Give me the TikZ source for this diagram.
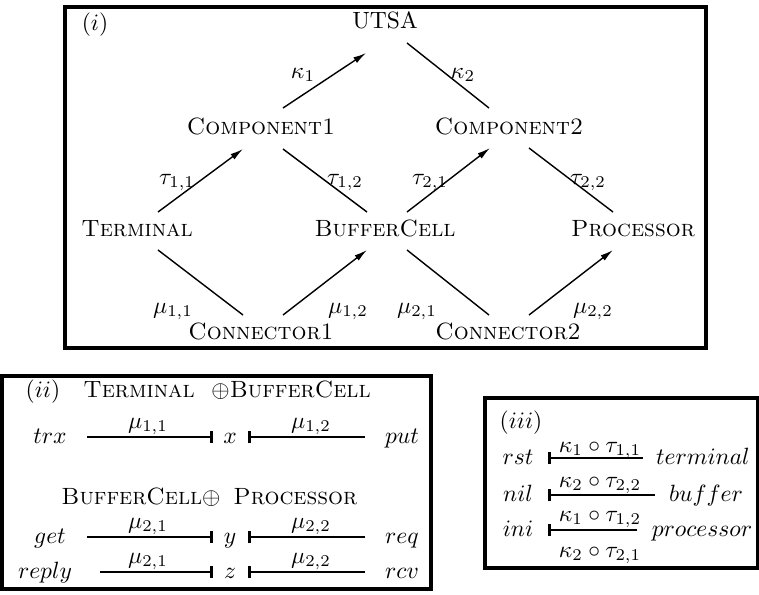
\documentclass[tikz,border=0pt]{standalone}
\usetikzlibrary{arrows.meta,calc}
\begin{document}
\begin{tikzpicture}[x=0.425pt,y=-0.425pt,
  lbl/.style={inner sep=0pt, text height=1.5ex, text depth=0.3ex},
  frame/.style={draw, line width=1.3pt},
  link/.style={line width=0.6pt},
  arr/.style={link, -{Latex[length=5.5pt,width=2.8pt]}},
  mapto/.style={line width=0.9pt, -{Bar[width=5.4pt,line width=1.4pt]}},
  mapfrom/.style={line width=0.9pt, {Bar[width=5.4pt,line width=1.4pt]}-}]
\useasboundingbox (0,0) rectangle (759,594);

% ---------- (i) the component hierarchy ----------
\draw[frame] (65,7) rectangle (706,348);
\node[lbl] (lab1) at (95,24) {$(i)$};

\node[lbl] (utsa)  at (385,22)  {UTSA};
\node[lbl] (comp1) at (261,128) {\textsc{Component1}};
\node[lbl] (comp2) at (509,128) {\textsc{Component2}};
\node[lbl] (term)  at (137,230) {\textsc{Terminal}};
\node[lbl] (buf)   at (385,230) {\textsc{BufferCell}};
\node[lbl] (proc)  at (633,230) {\textsc{Processor}};
\node[lbl] (con1)  at (261,333) {\textsc{Connector1}};
\node[lbl] (con2)  at (508,333) {\textsc{Connector2}};

\draw[arr]  ($(comp1)+(22,-20)$) -- ($(utsa)+(-19,31)$);
\draw[link] ($(utsa)+(22,21)$)   -- ($(comp2)+(-20,-20)$);
\draw[arr]  ($(term)+(21,-18)$)  -- ($(comp1)+(-18,21)$);
\draw[link] ($(comp1)+(22,21)$)  -- ($(buf)+(-18,-18)$);
\draw[arr]  ($(buf)+(22,-18)$)   -- ($(comp2)+(-19,20)$);
\draw[link] ($(comp2)+(20,20)$)  -- ($(proc)+(-20,-18)$);
\draw[link] ($(term)+(21,20)$)   -- ($(con1)+(-18,-18)$);
\draw[arr]  ($(con1)+(22,-18)$)  -- ($(buf)+(-18,20)$);
\draw[link] ($(buf)+(22,20)$)    -- ($(con2)+(-19,-18)$);
\draw[arr]  ($(con2)+(21,-18)$)  -- ($(proc)+(-20,20)$);

\node[lbl] (k1)  at (303,72)  {$\kappa_1$};
\node[lbl] (k2)  at (463,72)  {$\kappa_2$};
\node[lbl] (t11) at (177,178) {$\tau_{1,1}$};
\node[lbl] (t12) at (345,178) {$\tau_{1,2}$};
\node[lbl] (t21) at (430,178) {$\tau_{2,1}$};
\node[lbl] (t22) at (588,178) {$\tau_{2,2}$};
\node[lbl] (m11) at (173,307) {$\mu_{1,1}$};
\node[lbl] (m12) at (348,307) {$\mu_{1,2}$};
\node[lbl] (m21) at (417,307) {$\mu_{2,1}$};
\node[lbl] (m22) at (593,307) {$\mu_{2,2}$};

% ---------- (ii) the connector bindings ----------
\draw[frame] (2,376) rectangle (431,589);
\node[lbl] (lab2) at (43,391) {$(ii)$};
\node[lbl] (hTerm) at (139,391) {\textsc{Terminal}};
\node[lbl, anchor=west] (hBufA) at (211,391) {$\oplus$\textsc{BufferCell}};
\node[lbl, anchor=east] (hBufB) at (221,498) {\textsc{BufferCell}$\oplus$};
\node[lbl, anchor=west] (hProc) at (233,498) {\textsc{Processor}};

\node[lbl] (trx) at (50,437)  {$trx$};
\node[lbl] (vx)  at (230,437) {$x$};
\node[lbl] (put) at (402,437) {$put$};
\draw[mapto]   ($(trx)+(37,0)$) -- ($(vx)+(-17,0)$);
\draw[mapfrom] ($(vx)+(18,0)$)  -- ($(put)+(-37,0)$);
\node[lbl] (a11) at (148,422) {$\mu_{1,1}$};
\node[lbl] (a12) at (311,422) {$\mu_{1,2}$};

\node[lbl] (get) at (50,537)  {$get$};
\node[lbl] (vy)  at (230,537) {$y$};
\node[lbl] (req) at (402,537) {$req$};
\draw[mapto]   ($(get)+(37,0)$) -- ($(vy)+(-17,0)$);
\draw[mapfrom] ($(vy)+(18,0)$)  -- ($(req)+(-37,0)$);
\node[lbl] (b21) at (148,522) {$\mu_{2,1}$};
\node[lbl] (b22) at (311,522) {$\mu_{2,2}$};

\node[lbl] (reply) at (45,572)  {$reply$};
\node[lbl] (vz)    at (230,572) {$z$};
\node[lbl] (rcv)   at (402,572) {$rcv$};
\draw[mapto]   ($(reply)+(55,0)$) -- ($(vz)+(-17,0)$);
\draw[mapfrom] ($(vz)+(18,0)$)    -- ($(rcv)+(-37,0)$);
\node[lbl] (c21) at (148,557) {$\mu_{2,1}$};
\node[lbl] (c22) at (311,557) {$\mu_{2,2}$};

% ---------- (iii) the initial states ----------
\draw[frame] (485,398) rectangle (757.5,568);
\node[lbl] (lab3) at (521,422) {$(iii)$};

\node[lbl] (rst)  at (518,458) {$rst$};
\node[lbl] (nil)  at (518,495) {$nil$};
\node[lbl] (ini)  at (518,530) {$ini$};
\node[lbl] (sTerm) at (703,458) {$terminal$};
\node[lbl] (sBuf)  at (706,495) {$buffer$};
\node[lbl] (sProc) at (702,530) {$processor$};

\draw[mapto] ($(sTerm)+(-60,0)$) -- ($(rst)+(30,0)$);
\draw[mapto] ($(sBuf)+(-51,0)$)  -- ($(nil)+(30,0)$);
\draw[mapto] ($(sProc)+(-65,0)$) -- ($(ini)+(30,0)$);

\node[lbl] (g1) at (600,446) {$\kappa_1\circ\tau_{1,1}$};
\node[lbl] (g2) at (600,481) {$\kappa_2\circ\tau_{2,2}$};
\node[lbl] (g3) at (600,515) {$\kappa_1\circ\tau_{1,2}$};
\node[lbl] (g4) at (600,551) {$\kappa_2\circ\tau_{2,1}$};
\end{tikzpicture}
\end{document}
